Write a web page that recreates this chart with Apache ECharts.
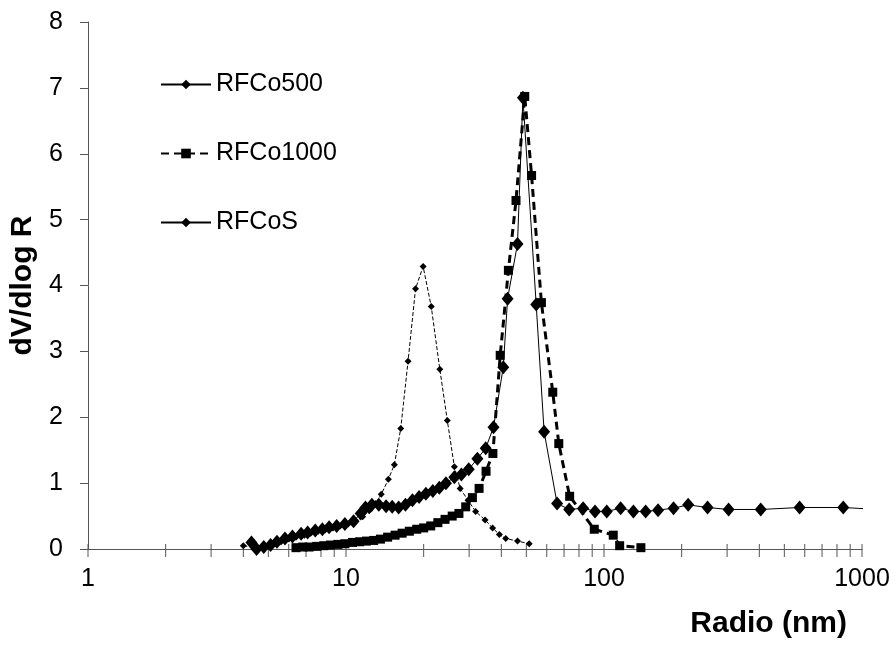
<!DOCTYPE html>
<html>
<head>
<meta charset="utf-8">
<script src="https://cdn.jsdelivr.net/npm/echarts@6/dist/echarts.min.js"></script>
<style>
  html, body { margin: 0; padding: 0; background: #fff; }
  #main { width: 896px; height: 646px; }
</style>
</head>
<body>
<div id="main"></div>
<script>
// 孔径 (nm) 与 dV/dlog R
var rfco500R = [4.0, 4.4, 4.7, 5.0, 5.3, 5.6, 6.0, 6.4, 6.9, 7.3, 7.8, 8.3, 8.9, 9.5, 10.2, 10.9, 11.6, 12.3, 13.0, 13.7, 14.6, 15.4, 16.3, 17.4, 18.6, 19.9, 21.4, 23.1, 24.7, 26.3, 27.7, 29.7, 31.8, 34.6, 37.0, 39.3, 41.6, 46.2, 51.3];
var rfco500V = [0.05, 0.02, 0.03, 0.05, 0.08, 0.11, 0.15, 0.18, 0.21, 0.24, 0.27, 0.29, 0.32, 0.35, 0.38, 0.42, 0.49, 0.58, 0.69, 0.83, 1.06, 1.28, 1.83, 2.85, 3.95, 4.29, 3.68, 2.73, 1.95, 1.25, 0.92, 0.74, 0.57, 0.44, 0.32, 0.22, 0.16, 0.12, 0.08];

var rfco1000R = [6.4, 6.8, 7.2, 7.7, 8.2, 8.7, 9.3, 9.9, 10.6, 11.3, 12.0, 12.8, 13.6, 14.5, 15.5, 16.5, 17.6, 18.8, 20.0, 21.3, 22.7, 24.2, 25.8, 27.4, 29.1, 30.9, 32.8, 34.9, 37.1, 39.6, 42.6, 45.6, 49.3, 52.4, 57.2, 63.3, 66.8, 73.6, 91.7, 108.6, 115, 139];
var rfco1000V = [0.02, 0.03, 0.03, 0.04, 0.05, 0.06, 0.07, 0.08, 0.10, 0.11, 0.12, 0.13, 0.15, 0.18, 0.21, 0.24, 0.27, 0.30, 0.32, 0.35, 0.40, 0.45, 0.50, 0.54, 0.64, 0.78, 0.92, 1.18, 1.45, 2.94, 4.23, 5.29, 6.87, 5.67, 3.74, 2.38, 1.60, 0.80, 0.30, 0.21, 0.05, 0.02];

var rfcosR = [4.3, 4.5, 4.8, 5.1, 5.4, 5.8, 6.2, 6.7, 7.1, 7.6, 8.1, 8.6, 9.2, 9.9, 10.7, 11.4, 11.9, 12.6, 13.4, 14.3, 15.1, 16.0, 17.0, 18.1, 19.2, 20.4, 21.7, 23.0, 24.4, 26.3, 28.0, 29.9, 32.3, 34.8, 37.3, 40.7, 42.3, 46.2, 48.5, 54.6, 58.6, 65.8, 73.3, 83.0, 92.3, 102.5, 116, 130, 145, 162, 186, 212, 252, 304, 405, 573, 846, 1150];
var rfcosV = [0.10, 0.00, 0.03, 0.06, 0.11, 0.16, 0.19, 0.23, 0.25, 0.28, 0.30, 0.33, 0.35, 0.38, 0.42, 0.54, 0.63, 0.67, 0.67, 0.65, 0.64, 0.63, 0.67, 0.74, 0.79, 0.84, 0.88, 0.93, 1.00, 1.09, 1.13, 1.21, 1.37, 1.53, 1.85, 2.76, 3.80, 4.63, 6.85, 3.71, 1.78, 0.69, 0.60, 0.62, 0.57, 0.57, 0.62, 0.57, 0.57, 0.59, 0.62, 0.67, 0.63, 0.60, 0.60, 0.63, 0.63, 0.60];

// x 轴刻度 (对数)
var xTickValues = [1, 2, 3, 4, 5, 6, 7, 8, 9, 10, 20, 30, 40, 50, 60, 70, 80, 90, 100, 200, 300, 400, 500, 600, 700, 800, 900, 1000];

function pairs(xs, ys) {
    var out = [];
    for (var i = 0; i < xs.length; i++) {
        out.push([xs[i], ys[i]]);
    }
    return out;
}

var myChart = echarts.init(document.getElementById('main'));
var font = '"Liberation Sans", Arial, sans-serif';

var option = {
    backgroundColor: '#fff',
    animation: false,
    textStyle: { fontFamily: font, color: '#000' },
    grid: { left: 88, right: 34, top: 22, bottom: 97, outerBoundsMode: 'none', containLabel: false },
    legend: {
        orient: 'vertical',
        left: 155,
        top: 67,
        itemWidth: 50,
        itemHeight: 12,
        itemGap: 44,
        textStyle: { fontSize: 25, color: '#000', fontFamily: font },
        data: [
            { name: 'RFCo500', lineStyle: { type: 'solid' } },
            { name: 'RFCo1000' },
            { name: 'RFCoS' }
        ]
    },
    xAxis: {
        type: 'log',
        logBase: 10,
        min: 1,
        max: 1000,
        name: 'Radio (nm)',
        nameLocation: 'end',
        nameGap: -15,
        nameTextStyle: {
            fontSize: 30,
            fontWeight: 'bold',
            color: '#000',
            align: 'right',
            verticalAlign: 'top',
            padding: [60, 0, 0, 0]
        },
        axisLine: { lineStyle: { color: '#555', width: 1 } },
        axisTick: { show: false },
        splitLine: { show: false },
        axisLabel: {
            fontSize: 25,
            color: '#000',
            margin: 18,
            formatter: function(v) { return String(v); }
        }
    },
    yAxis: {
        type: 'value',
        min: 0,
        max: 8,
        interval: 1,
        name: 'dV/dlog R',
        nameLocation: 'middle',
        nameGap: 50,
        nameTextStyle: { fontSize: 30, fontWeight: 'bold', color: '#000' },
        axisLine: { show: true, lineStyle: { color: '#555', width: 1 } },
        axisTick: { show: true, inside: false, length: 8, lineStyle: { color: '#555' } },
        splitLine: { show: false },
        axisLabel: { fontSize: 25, color: '#000', margin: 25 }
    },
    series: [
        {
            // 自画对数刻度
            type: 'custom',
            silent: true,
            z: 1,
            data: xTickValues.map(function(v) { return [v, 0]; }),
            renderItem: function(params, api) {
                var p = api.coord([api.value(0), 0]);
                return {
                    type: 'line',
                    shape: { x1: p[0], y1: p[1] - 5, x2: p[0], y2: p[1] + 8 },
                    style: { stroke: '#555', lineWidth: 1 }
                };
            }
        },
        {
            name: 'RFCo500',
            type: 'line',
            symbol: 'diamond',
            symbolSize: 7,
            z: 4,
            itemStyle: { color: '#000' },
            lineStyle: { color: '#000', width: 1, type: [4, 2] },
            data: pairs(rfco500R, rfco500V)
        },
        {
            name: 'RFCo1000',
            type: 'line',
            symbol: 'rect',
            symbolSize: 9,
            z: 3,
            itemStyle: { color: '#000' },
            lineStyle: { color: '#000', width: 3, type: [8, 5] },
            data: pairs(rfco1000R, rfco1000V)
        },
        {
            name: 'RFCoS',
            type: 'line',
            symbol: 'diamond',
            symbolSize: [12, 14],
            z: 5,
            itemStyle: { color: '#000' },
            lineStyle: { color: '#000', width: 1 },
            data: pairs(rfcosR, rfcosV)
        }
    ]
};

myChart.setOption(option);
</script>
</body>
</html>
